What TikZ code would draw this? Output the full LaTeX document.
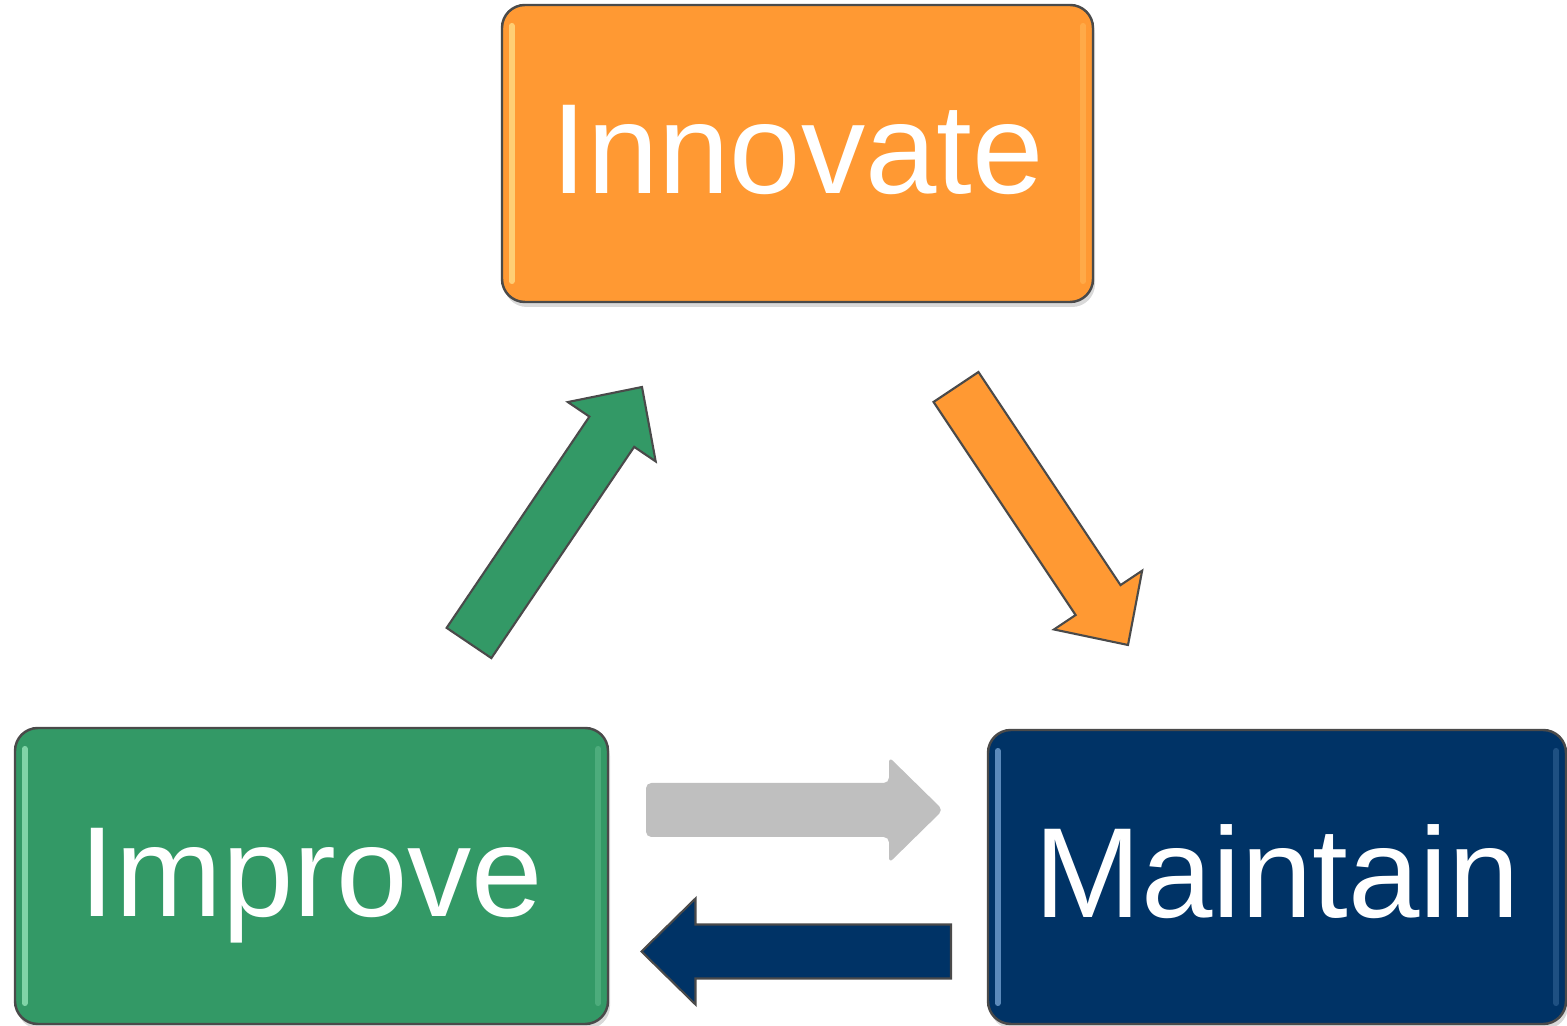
\documentclass[tikz,border=0pt]{standalone}
\usepackage{fontspec}
\setmainfont{Liberation Sans}
\usetikzlibrary{calc, shadows}
\definecolor{innovfill}{HTML}{FF9933}
\definecolor{innovglow}{HTML}{FFE08A}
\definecolor{improvefill}{HTML}{339966}
\definecolor{improveglow}{HTML}{9BE8BE}
\definecolor{maintfill}{HTML}{003366}
\definecolor{maintglow}{HTML}{7AA8D8}
\definecolor{loopgray}{HTML}{BFBFBF}
\definecolor{edgeline}{HTML}{4A4A4A}
\tikzset{
  stage/.style={rectangle, rounded corners=6.5pt, draw=edgeline, line width=0.7pt,
                text=white, font=\fontsize{36.5}{40}\selectfont,
                text height=0.91cm, text depth=0.1cm,
                drop shadow={shadow xshift=0.02cm, shadow yshift=-0.05cm, opacity=0.3}},
  glow/.style={line width=1.6pt, line cap=round, opacity=0.75},
  blockarr/.style={draw=edgeline, line width=0.6pt, line join=miter},
  flatarr/.style={fill=loopgray, rounded corners=1.5pt},
}
\def\halfshaft{0.27cm}
\def\halfhead{0.53cm}
\def\headlen{0.54cm}
% block arrow from a tail coordinate to a tip coordinate
\newcommand{\blockarrow}[3][]{%
  \coordinate (ba-base) at ($(#3)!\headlen!(#2)$);
  \path[#1] ($(#2)!\halfshaft!90:(#3)$) -- ($(ba-base)!\halfshaft!90:(#3)$)
    -- ($(ba-base)!\halfhead!90:(#3)$) -- (#3)
    -- ($(ba-base)!\halfhead!-90:(#3)$) -- ($(ba-base)!\halfshaft!-90:(#3)$)
    -- ($(#2)!\halfshaft!-90:(#3)$) -- cycle;
}

\begin{document}
\begin{tikzpicture}
\useasboundingbox (0,0) rectangle (15.67,-10.26);

% Stages
\node[stage, fill=innovfill, minimum width=5.91cm, minimum height=2.97cm]
  (innovate) at (7.975,-1.535) {Innovate};
\node[stage, fill=improvefill, minimum width=5.93cm, minimum height=2.96cm]
  (improve) at (3.115,-8.76) {Improve};
\node[stage, fill=maintfill, minimum width=5.78cm, minimum height=2.94cm]
  (maintain) at (12.77,-8.77) {Maintain};

% Gloss on the box edges
\foreach \n/\c in {innovate/innovglow, improve/improveglow, maintain/maintglow} {
  \draw[glow, draw=\c] ($(\n.north west)+(0.11,-0.22)$) -- ($(\n.south west)+(0.11,0.22)$);
  \draw[glow, draw=\c, opacity=0.25] ($(\n.north east)+(-0.11,-0.22)$) -- ($(\n.south east)+(-0.11,0.22)$);
}

% Arrow ends
\coordinate (greentail) at (4.69,-6.43);
\coordinate (greentip) at (6.42,-3.87);
\coordinate (orangetail) at (9.56,-3.87);
\coordinate (orangetip) at (11.28,-6.45);
\coordinate (graytail) at (6.46,-8.10);
\coordinate (graytip) at (9.43,-8.10);
\coordinate (navytail) at (9.51,-9.515);
\coordinate (navytip) at (6.415,-9.515);

% Cycle
\blockarrow[blockarr, fill=improvefill]{greentail}{greentip}
\blockarrow[blockarr, fill=innovfill]{orangetail}{orangetip}
\blockarrow[flatarr]{graytail}{graytip}
\blockarrow[blockarr, fill=maintfill]{navytail}{navytip}

\end{tikzpicture}
\end{document}
